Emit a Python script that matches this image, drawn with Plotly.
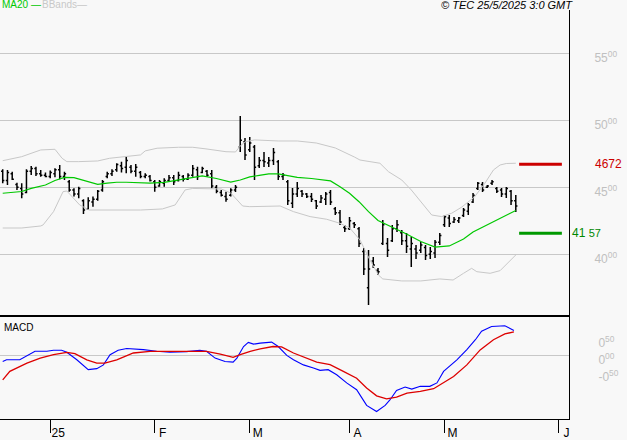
import plotly.graph_objects as go

# ---------------- data ----------------
# trading-day index 0 = 16 Dec 2024 ... 108 = 23 May 2025
bar_high = [46.34,46.29,46.16,45.34,45.30,46.34,46.59,46.53,46.29,46.09,
            46.24,46.42,46.66,46.16,45.54,44.92,45.04,44.10,44.25,44.30,
            44.80,45.54,46.16,46.34,46.79,46.91,47.28,46.66,46.74,46.21,
            46.04,45.92,45.54,45.54,45.67,45.92,45.92,46.16,45.92,46.04,
            46.66,46.53,46.53,46.29,46.29,45.17,44.80,44.67,44.92,45.17,
            50.32,48.68,48.75,48.15,47.26,47.63,47.26,47.93,47.03,46.06,
            45.54,44.95,45.39,44.80,44.57,44.57,44.05,44.42,44.65,44.80,
            43.53,43.30,42.19,42.78,42.41,42.04,40.47,40.32,39.80,38.98,
            42.56,41.21,42.19,42.56,41.81,41.59,41.29,40.69,40.92,40.69,
            40.54,41.07,41.59,42.93,42.93,42.78,42.78,43.45,43.83,44.57,
            45.39,45.39,45.17,45.54,45.02,44.95,45.02,44.80,44.42]
bar_low = [45.30,45.17,45.54,44.80,44.18,44.55,45.92,45.84,45.79,45.74,
           45.67,45.74,45.59,45.54,44.67,44.30,44.18,43.01,43.30,43.55,
           44.00,44.67,45.67,45.84,46.16,46.09,46.04,46.04,45.79,45.67,
           45.67,45.42,44.67,45.04,45.04,45.42,45.17,45.42,45.42,45.54,
           45.79,45.54,46.04,45.79,44.92,44.55,44.30,43.92,44.30,44.65,
           47.63,47.03,47.63,45.54,46.44,46.51,46.51,46.66,45.54,45.54,
           43.68,43.45,44.27,44.27,44.20,43.90,43.38,43.83,43.68,43.68,
           42.93,42.19,41.66,41.81,41.96,40.54,38.45,36.22,38.98,38.45,
           40.69,39.80,40.92,41.66,40.69,40.10,39.05,39.65,40.10,39.57,
           39.65,39.72,40.69,42.04,42.04,42.33,42.33,42.78,42.93,43.83,
           44.80,44.65,44.95,45.17,44.57,44.27,44.20,43.68,43.16]
bar_open = [46.2,45.5,46.0,45.2,44.9,44.6,46.2,46.4,46.0,45.9,
            45.8,46.0,46.3,45.8,45.4,44.8,44.5,44.0,43.4,43.9,
            44.1,44.8,45.8,46.0,46.3,46.6,46.5,46.5,46.2,46.1,
            45.8,45.8,45.4,45.1,45.3,45.5,45.7,45.5,45.8,45.6,
            45.9,46.3,46.1,46.2,46.0,45.0,44.6,44.3,44.4,44.8,
            48.0,48.4,47.8,48.0,46.6,47.0,46.8,47.0,46.9,45.8,
            45.4,43.8,44.5,44.7,44.5,44.3,44.0,43.9,44.1,44.6,
            43.4,43.1,42.0,41.9,42.3,41.9,40.2,37.5,39.5,38.8,
            40.8,40.8,41.0,41.9,41.6,41.0,40.4,40.4,40.3,40.5,
            40.0,40.1,40.9,42.2,42.7,42.4,42.5,42.9,43.2,43.9,
            44.9,45.2,45.0,45.3,44.9,44.8,44.5,44.7,44.0]
bar_close = [45.5,46.1,45.6,45.0,44.5,46.2,46.4,46.0,45.9,45.8,
             46.1,46.3,45.8,46.0,44.8,44.5,44.9,43.3,44.0,44.1,
             44.7,45.4,46.0,46.2,46.7,46.4,47.0,46.2,46.5,45.8,
             45.9,45.5,45.0,45.4,45.5,45.7,45.4,45.9,45.6,45.9,
             46.4,45.8,46.4,45.9,45.1,44.7,44.4,44.1,44.8,45.0,
             48.5,47.4,48.3,46.5,47.0,46.9,47.0,47.6,45.8,45.9,
             44.0,44.5,44.9,44.5,44.3,44.1,43.6,44.2,44.5,43.9,
             43.1,42.4,41.9,42.5,42.2,40.8,38.9,38.9,39.2,38.7,
             42.2,40.3,41.9,42.2,41.0,40.6,40.8,40.1,40.7,39.9,
             40.2,40.9,41.4,42.8,42.3,42.6,42.7,43.3,43.7,44.4,
             45.3,44.8,45.1,45.4,44.7,44.5,44.9,44.0,43.6]

ma20_x = [0,4,6,9,11,13,15,17,20,22,24,26,29,31,34,36,38,40,42,45,48,50,52,54,
          56,58,60,62,65,67,69,71,73,75,77,79,82,85,88,91,94,97,99,102,105,108]
ma20_y = [44.55,44.68,44.92,45.17,45.50,45.74,45.71,45.50,45.22,45.30,45.37,45.37,
          45.32,45.30,45.36,45.47,45.62,45.74,45.84,45.65,45.39,45.54,45.77,45.88,
          45.99,45.99,45.88,45.73,45.65,45.58,45.47,45.04,44.55,43.92,43.18,42.52,
          42.04,41.51,40.95,40.54,40.62,41.14,41.66,42.19,42.69,43.27]

bb_up_x = [0,4,8,11,12.5,13.5,16,20,22.5,26,29,30,32.5,37,40,43,47,49,50,51,53,58,
           62,66,70,74,75.2,77.3,79.4,81.2,84,86,88.2,90.3,92.4,94.5,96.5,99.3,
           101.5,102.6,103.3,104.7,106,108]
bb_up_y = [46.98,47.28,47.78,47.83,47.16,46.91,46.91,46.96,47.16,47.28,47.41,47.71,
           47.91,47.98,47.98,47.85,47.65,47.63,48.08,48.38,48.53,48.45,48.45,48.30,
           47.93,47.26,47.03,46.91,46.79,46.16,45.54,44.80,43.80,42.93,42.81,43.06,
           43.49,44.27,45.30,45.92,46.29,46.66,46.77,46.79]

bb_lo_x = [0,4,8,8.5,10.7,12.7,13.5,16.2,18.2,29,33.6,36.3,38.4,40,46,48,50.5,52,
           58.4,61.2,64.7,68.2,71,73.1,75.2,77.3,79.1,80,84,88,92,94.8,97,98.7,
           99.8,102.6,104.7,106.5,108]
bb_lo_y = [41.96,41.96,42.11,42.19,43.18,44.67,44.72,43.68,43.30,43.30,43.38,43.68,
           44.80,44.91,44.87,44.57,43.60,43.55,43.60,43.18,42.81,42.61,42.31,41.94,
           41.07,39.57,38.45,38.16,38.01,38.01,38.16,38.08,38.58,38.95,38.70,38.58,
           38.78,39.42,39.95]

macd_x = [0,0.8,3.6,6.8,9.3,10.7,12.4,13.5,15.6,18,19.8,21.2,22.6,24.3,26.1,29.6,
          32.4,35.2,38.7,41.5,42.9,44.7,46.8,48.5,49.3,50.7,51.7,52.8,54.2,56.6,
          58,59.8,61.2,63.3,65.4,66.8,68.5,70.3,72.4,74.5,75.6,76.6,78.7,80.5,
          81.5,82.9,84.7,86.1,87.9,89.9,91.4,92.8,95.6,97.7,99.5,100.8,102.9,
          105.7,107.6]
macd_y = [-0.19,-0.14,-0.14,0.11,0.11,0.14,0.14,0.08,-0.14,-0.43,-0.40,-0.29,0.01,
          0.14,0.19,0.16,0.11,0.08,0.10,0.14,0.11,-0.09,-0.19,-0.21,-0.09,0.25,
          0.37,0.32,0.35,0.38,0.25,-0.01,-0.14,-0.29,-0.38,-0.45,-0.43,-0.58,
          -0.82,-1.02,-1.26,-1.48,-1.66,-1.48,-1.32,-1.04,-0.94,-1.00,-0.92,
          -0.92,-0.82,-0.48,-0.14,0.16,0.45,0.70,0.84,0.86,0.72]

signal_x = [0,1.5,5.1,7.9,10.7,13.5,15.2,17.7,19.8,21.5,24,27.5,31,34.5,38,42.9,
            45.8,48.5,50,52.1,54.2,56.9,58.7,61.2,66.1,68.9,71.7,74.5,76.6,78.7,
            80.8,82.9,85.1,87.9,90.7,92.8,94.9,97.7,100.5,103.3,105.7,107.6]
signal_y = [-0.73,-0.48,-0.24,-0.09,0.01,0.08,0.04,-0.14,-0.24,-0.24,-0.14,0.06,
            0.11,0.11,0.09,0.11,0.03,-0.07,0.01,0.11,0.18,0.25,0.24,0.06,-0.21,
            -0.28,-0.48,-0.68,-0.97,-1.20,-1.29,-1.24,-1.12,-1.07,-0.99,-0.82,
            -0.63,-0.29,0.15,0.45,0.62,0.68]

resistance = 46.72
support = 41.57

month_ticks = [10, 32, 52, 73, 93, 117]
month_labels = ["25", "F", "M", "A", "M", "J"]

price_ticks = [40, 45, 50, 55]
price_labels = ["40<sup>00</sup>", "45<sup>00</sup>", "50<sup>00</sup>", "55<sup>00</sup>"]
macd_ticks = [0.5, 0.0, -0.5]
macd_labels = ["0<sup>50</sup>", "0<sup>00</sup>", "-0<sup>50</sup>"]

# ---------------- figure ----------------
idx = list(range(len(bar_close)))
last = idx[-1]
W, H = 627, 440
ml, mr, mt, mb = 0, 58, 10, 21
plot_w = W - ml - mr
plot_h = H - mt - mb
bg = "#f8f8f8"
grey = "#c8c8c8"

fig = go.Figure()

fig.add_trace(go.Scatter(x=bb_up_x, y=bb_up_y, mode="lines",
                         line=dict(color=grey, width=1), xaxis="x", yaxis="y",
                         hoverinfo="skip"))
fig.add_trace(go.Scatter(x=bb_lo_x, y=bb_lo_y, mode="lines",
                         line=dict(color=grey, width=1), xaxis="x", yaxis="y",
                         hoverinfo="skip"))
fig.add_trace(go.Scatter(x=ma20_x, y=ma20_y, mode="lines",
                         line=dict(color="#00c800", width=1.2), xaxis="x", yaxis="y"))
fig.add_trace(go.Ohlc(x=idx, open=bar_open, high=bar_high, low=bar_low, close=bar_close,
                      increasing=dict(line=dict(color="#000000", width=1.5)),
                      decreasing=dict(line=dict(color="#000000", width=1.5)),
                      tickwidth=0.35, xaxis="x", yaxis="y"))
# resistance / support levels to the right of the last bar
fig.add_trace(go.Scatter(x=[last + 0.7, last + 9.7], y=[resistance, resistance], mode="lines",
                         line=dict(color="#cc0000", width=3), xaxis="x", yaxis="y"))
fig.add_trace(go.Scatter(x=[last + 0.7, last + 9.7], y=[support, support], mode="lines",
                         line=dict(color="#009900", width=3), xaxis="x", yaxis="y"))

fig.add_trace(go.Scatter(x=macd_x, y=macd_y, mode="lines",
                         line=dict(color="#0000ff", width=1.1), xaxis="x2", yaxis="y2"))
fig.add_trace(go.Scatter(x=signal_x, y=signal_y, mode="lines",
                         line=dict(color="#dd0000", width=1.3), xaxis="x2", yaxis="y2"))

split_top = (plot_h - (315 - mt)) / plot_h
split_bot = (plot_h - (316 - mt)) / plot_h
xr = [-0.57, 119.2]

fig.update_layout(
    width=W, height=H, margin=dict(l=ml, r=mr, t=mt, b=mb),
    paper_bgcolor=bg, plot_bgcolor=bg, showlegend=False,
    font=dict(family="Liberation Sans, Arial, sans-serif", color="#000000"),
    xaxis=dict(domain=[0, 1], range=xr, anchor="y", showgrid=False, zeroline=False,
               showticklabels=False, ticks="", showline=True, linecolor="#000000",
               linewidth=2, rangeslider=dict(visible=False)),
    yaxis=dict(domain=[split_top, 1], range=[35.47, 58.22], side="right", anchor="x",
               tickvals=price_ticks, ticktext=price_labels, showgrid=True,
               gridcolor=grey, gridwidth=1, zeroline=False, ticks="",
               showline=True, linecolor="#000000", linewidth=1,
               tickfont=dict(size=12, color="#c0c0c0"),
               ticklabelstandoff=22, ticklabelshift=5),
    xaxis2=dict(domain=[0, 1], range=xr, anchor="y2", matches="x", showgrid=False,
                zeroline=False, tickvals=month_ticks, ticktext=month_labels,
                ticks="outside", ticklen=13, tickcolor="#000000", tickwidth=1,
                showline=True, linecolor="#000000", linewidth=1,
                tickfont=dict(size=12, color="#000000"),
                ticklabelshift=8, ticklabelstandoff=-10),
    yaxis2=dict(domain=[0, split_bot], range=[-1.88, 1.147], side="right", anchor="x2",
                tickvals=macd_ticks, ticktext=macd_labels, showgrid=False,
                zeroline=True, zerolinecolor=grey, zerolinewidth=1, ticks="",
                showline=True, linecolor="#000000", linewidth=1,
                tickfont=dict(size=12, color="#c0c0c0"),
                ticklabelstandoff=26, ticklabelshift=5),
)

top_y = 1 + 5 / plot_h
fig.add_annotation(text="MA20 —", xref="paper", yref="paper", x=0, y=top_y,
                   xanchor="left", yanchor="middle", showarrow=False,
                   font=dict(size=10, color="#00c800"))
fig.add_annotation(text="BBands—", xref="paper", yref="paper", x=40 / plot_w, y=top_y,
                   xanchor="left", yanchor="middle", showarrow=False,
                   font=dict(size=10, color="#c8c8c8"))
fig.add_annotation(text="<i>© TEC 25/5/2025 3:0 GMT</i>", xref="paper", yref="paper",
                   x=575 / plot_w, y=top_y, xanchor="right", yanchor="middle",
                   showarrow=False, font=dict(size=11, color="#000000"))
fig.add_annotation(text="MACD", xref="paper", yref="paper", x=2 / plot_w,
                   y=1 - (327 - mt) / plot_h, xanchor="left", yanchor="middle",
                   showarrow=False, font=dict(size=10, color="#000000"))
fig.add_annotation(text="4672", xref="paper", yref="y", x=593 / plot_w, y=resistance,
                   xanchor="left", yanchor="middle", showarrow=False,
                   font=dict(size=12, color="#cc0000"))
fig.add_annotation(text="41 <span style='font-size:11px'>57</span>", xref="paper", yref="y",
                   x=570 / plot_w, y=support, xanchor="left", yanchor="middle",
                   showarrow=False, font=dict(size=12, color="#008800"))

fig.write_html("out.html", config={"displayModeBar": False},
               post_script="document.body.style.margin='0';"
                           "document.body.style.background='#f8f8f8';")
